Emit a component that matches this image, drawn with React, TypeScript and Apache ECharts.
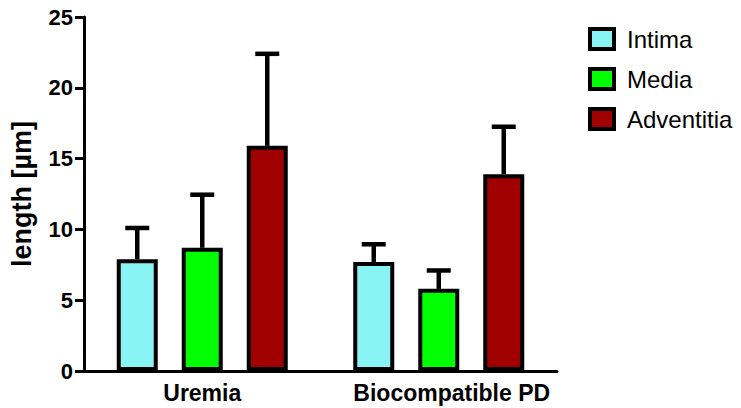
import React, { useEffect, useRef } from "react";
import * as echarts from "echarts";

const categories = ["Uremia", "Biocompatible PD"];
const seriesNames = ["Intima", "Media", "Adventitia"];
const intimaMean = [7.9, 7.7];
const intimaErr = [2.2, 1.25];
const mediaMean = [8.7, 5.8];
const mediaErr = [3.75, 1.3];
const adventitiaMean = [15.9, 13.9];
const adventitiaErr = [6.5, 3.35];
const yTicks = { min: 0, max: 25, interval: 5 };

const colors = ["#88F4F4", "#00FF00", "#A00000"];
const FONT = "'Liberation Sans', Arial, sans-serif";

const BAR_W = 41;
const GAP = 24;

export default function App() {
  const ref = useRef<HTMLDivElement>(null);
  useEffect(() => {
    if (!ref.current) return;
    const chart = echarts.init(ref.current, undefined, { renderer: "svg" });
    const means = [intimaMean, mediaMean, adventitiaMean];
    const errs = [intimaErr, mediaErr, adventitiaErr];
    const barSeries = seriesNames.map((name, i) => ({
      name,
      type: "bar",
      data: means[i],
      barWidth: BAR_W,
      barGap: (GAP / BAR_W) * 100 + "%",
      itemStyle: { color: colors[i], borderColor: "#000", borderWidth: 4 },
      z: 3,
    }));
    const errSeries = seriesNames.map((name, i) => ({
      name: name + "_err",
      type: "custom",
      z: 2,
      data: means[i].map((m, k) => [k, m, errs[i][k]]),
      renderItem: (params: any, api: any) => {
        const x = api.value(0);
        const v = api.value(1);
        const e = api.value(2);
        const top = api.coord([x, v]);
        const hi = api.coord([x, v + e]);
        const cx = top[0] + (i - 1) * (BAR_W + GAP);
        const cap = 24;
        return {
          type: "group",
          children: [
            {
              type: "line",
              shape: { x1: cx, y1: top[1], x2: cx, y2: hi[1] },
              style: { stroke: "#000", lineWidth: 4.5 },
            },
            {
              type: "line",
              shape: { x1: cx - cap / 2, y1: hi[1], x2: cx + cap / 2, y2: hi[1] },
              style: { stroke: "#000", lineWidth: 4.5 },
            },
          ],
        };
      },
    }));
    const catStyle = {
      fontFamily: FONT,
      fontSize: 23,
      fontWeight: "bold",
      color: "#000",
    };
    chart.setOption({
      animation: false,
      grid: { left: 80, right: 184, top: 17, bottom: 37, containLabel: false },
      legend: {
        orient: "vertical",
        left: 588,
        top: 27,
        padding: 0,
        itemWidth: 24,
        itemHeight: 20,
        itemGap: 16,
        icon: "rect",
        data: seriesNames,
        itemStyle: { borderColor: "#000", borderWidth: 4 },
        textStyle: {
          fontFamily: FONT,
          fontSize: 24,
          color: "#000",
          lineHeight: 24,
          padding: [0, 0, 0, 8],
        },
      },
      xAxis: {
        type: "category",
        data: categories,
        axisLine: { lineStyle: { color: "#000", width: 3 } },
        axisTick: { alignWithLabel: true, length: 9, lineStyle: { color: "#000", width: 3 } },
        axisLabel: {
          interval: 0,
          ...catStyle,
          margin: 10,
          formatter: (v: string, i: number) => (i === 1 ? `{s|${v}}` : `{n|${v}}`),
          rich: {
            n: { ...catStyle },
            s: { ...catStyle, padding: [0, 0, 0, 26] },
          },
        },
      },
      yAxis: {
        type: "value",
        min: yTicks.min,
        max: yTicks.max,
        interval: yTicks.interval,
        name: "length [µm]",
        nameLocation: "middle",
        nameRotate: 90,
        nameGap: 49,
        nameTextStyle: {
          fontFamily: FONT,
          fontSize: 27,
          fontWeight: "bold",
          color: "#000",
        },
        splitLine: { show: false },
        axisLine: { show: true, lineStyle: { color: "#000", width: 3 } },
        axisTick: { show: true, length: 9, lineStyle: { color: "#000", width: 3 } },
        axisLabel: {
          fontFamily: FONT,
          fontSize: 22,
          fontWeight: "bold",
          color: "#000",
          margin: 11,
        },
      },
      series: [...barSeries, ...errSeries],
    });
    return () => chart.dispose();
  }, []);
  return (
    <div
      ref={ref}
      style={{ position: "fixed", left: 0, top: 0, width: 741, height: 408, background: "#fff" }}
    />
  );
}
